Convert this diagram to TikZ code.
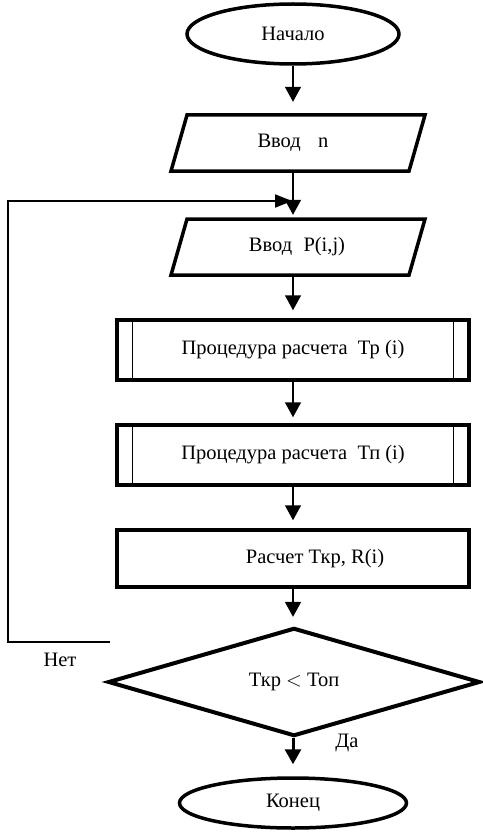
\documentclass[tikz,border=0pt]{standalone}
\usepackage{fontspec}
\setmainfont{Liberation Serif}
\usetikzlibrary{arrows.meta,shapes.geometric}
% slanted outline of an input block, drawn around a named node
\newcommand\drawslant[1]{%
  \draw[shapeline] ([shift={(-106,-28)}]#1.center) -- ([shift={(132,-28)}]#1.center)
    -- ([shift={(116,28)}]#1.center) -- ([shift={(-122,28)}]#1.center) -- cycle;}
% thin inner bars of a predefined-process block
\newcommand\procbars[1]{%
  \draw[line width=1pt] ([xshift=17pt]#1.north west) -- ([xshift=17pt]#1.south west);
  \draw[line width=1pt] ([xshift=-17pt]#1.north east) -- ([xshift=-17pt]#1.south east);}
\begin{document}
\begin{tikzpicture}[x=1pt,y=-1pt,
  font=\fontsize{20.5}{24}\selectfont,
  shapeline/.style={line width=3.5pt},
  terminal/.style={ellipse,draw,shapeline,inner sep=0pt},
  io/.style={inner sep=0pt,minimum width=220pt,minimum height=56pt},
  procbox/.style={rectangle,draw,shapeline,minimum width=352pt,inner sep=0pt},
  decision/.style={diamond,draw,line width=4pt,inner sep=0pt,minimum width=372pt,minimum height=92pt},
  flow/.style={line width=1.5pt,-{Triangle[length=15pt,width=16pt]}},
  loopline/.style={line width=2pt,-{Triangle[length=17pt,width=13pt]}},
  tag/.style={inner sep=0pt}]
\useasboundingbox (0,0) rectangle (482,832);

% blocks
\node[terminal,minimum width=212pt,minimum height=60pt] (start) at (293,34) {Начало};
\node[io] (inN) at (293,143) {Ввод\hspace{0.85em}n};
\drawslant{inN}
\node[io] (inP) at (293,247) {\hspace*{8pt}Ввод\hspace{0.55em}P(i,j)};
\drawslant{inP}
\node[procbox,minimum height=60pt] (proc1) at (293,350) {Процедура расчета\ \ Тр (i)};
\procbars{proc1}
\node[procbox,minimum height=60pt] (proc2) at (293,455) {Процедура расчета\ \ Тп (i)};
\procbars{proc2}
\node[procbox,minimum height=57pt] (calc) at (293,558.5) {\hspace*{44pt}Расчет Ткр, R(i)};
\node[decision] (check) at (294,682) {Ткр $<$ Топ};
\node[terminal,minimum width=227pt,minimum height=50pt] (stop) at (293,803) {Конец};

% main flow
\draw[flow,shorten >=13pt] (start) -- (inN);
\draw[flow,shorten >=4pt] (inN) -- (inP);
\draw[flow,shorten >=8pt] (inP) -- (proc1);
\draw[flow,shorten >=6pt] (proc1) -- (proc2);
\draw[flow,shorten >=8pt] (proc2) -- (calc);
\draw[flow,shorten >=9pt] (calc) -- (check.north -| calc.south);
\draw[flow,line width=3pt,shorten >=12pt] (check.south -| stop.north) -- (stop);

% return branch
\coordinate (noend) at (110,642);
\coordinate (join) at (293,201);
\draw[loopline,shorten >=1pt] (noend) -- ++(-102,0) |- (join);

% branch labels
\node[tag] (no) at (60,660) {Нет};
\node[tag] (yes) at (347,743) {Да};
\end{tikzpicture}
\end{document}
